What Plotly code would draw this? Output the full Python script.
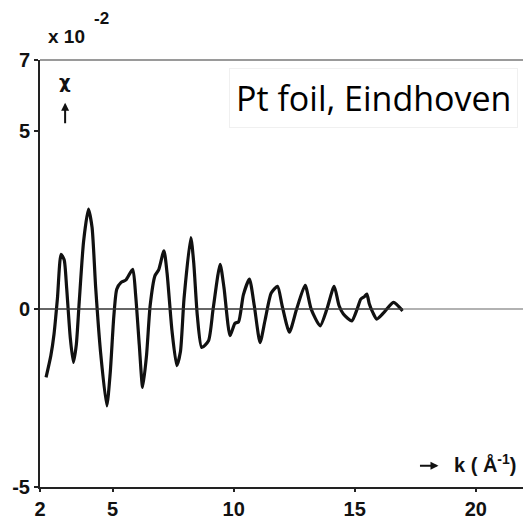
import plotly.graph_objects as go

k_values = [2.25, 2.45, 2.58, 2.72, 2.87, 3.0, 3.1, 3.25, 3.38, 3.5, 3.62, 3.8, 4.0, 4.15, 4.3, 4.5, 4.76,
            4.9, 5.05, 5.17, 5.35, 5.55, 5.83, 5.95, 6.1, 6.24, 6.4, 6.55, 6.75, 6.9, 7.12, 7.25, 7.45,
            7.65, 7.8, 7.95, 8.23, 8.35, 8.5, 8.68, 8.96, 9.15, 9.44, 9.6, 9.85, 10.05, 10.2, 10.4,
            10.65, 10.85, 11.09, 11.3, 11.55, 11.81, 12.0, 12.3, 12.6, 12.95, 13.2, 13.57, 13.85,
            14.15, 14.35, 14.53, 14.88, 15.1, 15.25, 15.4, 15.5, 15.6, 15.75, 15.91, 16.2, 16.6, 16.98]
chi_values = [-1.92, -1.3, -0.7, 0.3, 1.54, 1.38, 0.6, -0.8, -1.5, -1.0, 0.2, 1.9, 2.81, 2.3, 0.6, -1.2, -2.72,
              -1.8, -0.2, 0.56, 0.75, 0.82, 1.12, 0.4, -1.0, -2.2, -1.3, 0.1, 0.94, 1.1, 1.64, 1.0, -0.6,
              -1.59, -1.2, 0.3, 2.01, 1.3, -0.2, -1.08, -0.89, 0.0, 1.26, 0.6, -0.75, -0.4, -0.36, 0.4,
              0.84, 0.1, -0.94, -0.3, 0.45, 0.64, 0.1, -0.65, 0.0, 0.67, 0.0, -0.47, 0.0,
              0.64, 0.1, -0.14, -0.33, 0.0, 0.28, 0.35, 0.42, 0.15, -0.1, -0.28, -0.1, 0.19, -0.05]

x_ticks = [2, 5, 10, 15, 20]
y_ticks = [7, 5, 0, -5]
x_range = [2, 21.95]
y_range = [-5, 7]

tick_font = dict(size=20, color="#111111", family="Liberation Sans Narrow, Liberation Sans, Arial, sans-serif",
                 weight="bold")

fig = go.Figure()
fig.add_trace(go.Scatter(x=k_values, y=chi_values, mode="lines",
                         line=dict(color="#111111", width=3.2, shape="spline", smoothing=0.6),
                         hoverinfo="skip", showlegend=False))

fig.update_layout(
    width=523, height=522,
    margin=dict(l=40, r=0, t=60, b=35),
    paper_bgcolor="white", plot_bgcolor="white",
    font=dict(family="Liberation Sans Narrow, Liberation Sans, Arial, sans-serif", color="#111111"),
    xaxis=dict(range=x_range, tickvals=x_ticks, ticktext=[str(v) for v in x_ticks],
               showgrid=False, zeroline=False, showline=True, linecolor="#222222", linewidth=2,
               ticks="outside", ticklen=3, tickwidth=2, tickcolor="#222222",
               tickfont=tick_font),
    yaxis=dict(range=y_range, tickvals=y_ticks, ticktext=["7", "5", "0", "-5"],
               showgrid=False, zeroline=False, showline=True, linecolor="#222222", linewidth=2,
               ticks="outside", ticklen=4, tickwidth=2, tickcolor="#222222",
               tickfont=tick_font),
    shapes=[
        dict(type="line", xref="x", yref="y", x0=2, x1=17, y0=0, y1=0,
             line=dict(color="#333333", width=1.5)),
        dict(type="line", xref="x", yref="y", x0=17, x1=21.95, y0=0, y1=0,
             line=dict(color="#999999", width=1.5)),
        dict(type="line", xref="paper", yref="paper", x0=0, x1=1, y0=1, y1=1,
             line=dict(color="#9a9a9a", width=2)),
    ],
    annotations=[
        dict(text="x 10", xref="paper", yref="paper", x=0.012, y=1.025,
             xanchor="left", yanchor="bottom", showarrow=False,
             font=dict(size=19, weight="bold")),
        dict(text="-2", xref="paper", yref="paper", x=0.107, y=1.07,
             xanchor="left", yanchor="bottom", showarrow=False,
             font=dict(size=17, weight="bold")),
        dict(text="χ", xref="paper", yref="paper", x=0.052, y=0.98,
             xanchor="center", yanchor="top", showarrow=False,
             font=dict(size=18, family="DejaVu Sans", weight="bold")),
        dict(text="", xref="paper", yref="paper", x=0.052, y=0.9,
             ax=0, ay=22, axref="pixel", ayref="pixel", showarrow=True,
             arrowhead=2, arrowsize=0.8, arrowwidth=2, arrowcolor="#111111"),
        dict(text="", xref="paper", yref="paper", x=0.825, y=0.05,
             ax=-20, ay=0, axref="pixel", ayref="pixel", showarrow=True,
             arrowhead=2, arrowsize=0.8, arrowwidth=2, arrowcolor="#111111"),
        dict(text="k ( Å<sup>-1</sup>)", xref="paper", yref="paper", x=0.99, y=0.02,
             xanchor="right", yanchor="bottom", showarrow=False,
             font=dict(size=20, weight="bold")),
        dict(text="Pt foil, Eindhoven", xref="paper", yref="paper", x=0.99, y=0.912,
             xanchor="right", yanchor="middle", showarrow=False,
             font=dict(size=34, family="Open Sans, DejaVu Sans, sans-serif", color="#000000"),
             bgcolor="white", bordercolor="#f0f0f0", borderwidth=1, borderpad=6),
    ],
)

fig.write_html("out.html")
